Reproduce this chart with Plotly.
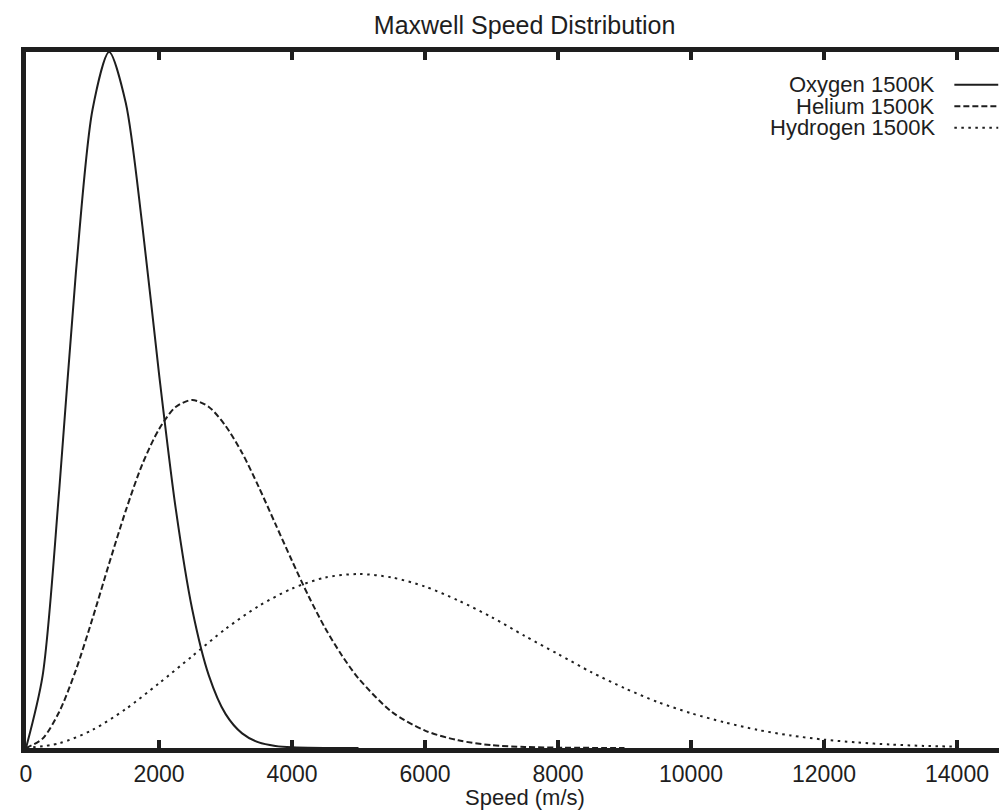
import plotly.graph_objects as go

# values (density relative to the oxygen peak)
oxygen_speed = [0, 250, 500, 750, 1000, 1250, 1500, 1750, 2000, 2250, 2500, 2750,
                3000, 3250, 3500, 3750, 4000, 4500, 5000]
oxygen_density = [0, 0.104, 0.371, 0.683, 0.917, 1.0, 0.927, 0.750, 0.538, 0.345,
                  0.199, 0.104, 0.049, 0.021, 0.008, 0.003, 0.001, 0.0001, 0]

helium_speed = [0, 250, 500, 750, 1000, 1250, 1500, 1750, 2000, 2250, 2500, 2750,
                3000, 3250, 3500, 3750, 4000, 4250, 4500, 4750, 5000, 5500, 6000,
                6500, 7000, 7500, 8000, 9000]
helium_density = [0, 0.0135, 0.052, 0.112, 0.186, 0.265, 0.341, 0.408, 0.458, 0.490,
                  0.5, 0.490, 0.463, 0.424, 0.375, 0.322, 0.269, 0.218, 0.172, 0.133,
                  0.100, 0.052, 0.025, 0.011, 0.004, 0.0015, 0.0005, 0]

hydrogen_speed = [0, 500, 1000, 1500, 2000, 2500, 3000, 3500, 4000, 4500, 5000, 5500,
                  6000, 6500, 7000, 7500, 8000, 8500, 9000, 9500, 10000, 10500, 11000,
                  11500, 12000, 12500, 13000, 13500, 14000]
hydrogen_density = [0, 0.0067, 0.026, 0.056, 0.093, 0.132, 0.171, 0.204, 0.229, 0.245,
                    0.25, 0.245, 0.232, 0.212, 0.188, 0.161, 0.135, 0.109, 0.086, 0.066,
                    0.050, 0.037, 0.026, 0.018, 0.012, 0.008, 0.005, 0.003, 0.002]

series_names = ["Oxygen 1500K", "Helium 1500K", "Hydrogen 1500K"]
x_ticks = [0, 2000, 4000, 6000, 8000, 10000, 12000, 14000]
x_tick_labels = ["0", "2000", "4000", "6000", "8000", "10000", "12000", "14000"]

INK = "#1e1e1e"
FONT = "Liberation Sans, Arial, Helvetica, sans-serif"
dashes = ["solid", "6px,3px", "2.5px,4.5px"]

fig = go.Figure()
for name, xs, ys, dash in zip(series_names,
                              [oxygen_speed, helium_speed, hydrogen_speed],
                              [oxygen_density, helium_density, hydrogen_density],
                              dashes):
    fig.add_trace(go.Scatter(x=xs, y=ys, mode="lines", name=name,
                             line=dict(color=INK, width=2, dash=dash, shape="spline",
                                       smoothing=0.8),
                             showlegend=False))

# gnuplot style key: right aligned text, line sample on the right
key_y = [0.953, 0.922, 0.891]
for name, ky, dash in zip(series_names, key_y, dashes):
    fig.add_annotation(x=13700, y=ky, xref="x", yref="paper", text=name,
                       showarrow=False, xanchor="right", yanchor="middle",
                       font=dict(family=FONT, size=22, color=INK))
    fig.add_shape(type="line", xref="x", yref="paper", x0=13960, x1=14620,
                  y0=ky, y1=ky, line=dict(color=INK, width=2, dash=dash))

fig.add_annotation(x=7500, y=0, xref="x", yref="paper", yshift=-49,
                   text="Speed (m/s)", showarrow=False, yanchor="middle",
                   font=dict(family=FONT, size=22, color=INK))

fig.update_layout(
    width=1007, height=812,
    margin=dict(l=18, r=0, t=44, b=72),
    paper_bgcolor="white", plot_bgcolor="white",
    title=dict(text="Maxwell Speed Distribution", x=0.513, xref="container",
               xanchor="center", y=1 - 17 / 812, yref="container", yanchor="middle",
               font=dict(family=FONT, size=25, color=INK)),
    xaxis=dict(range=[0, 14872], tickvals=x_ticks, ticktext=x_tick_labels,
               ticks="inside", ticklen=8, tickwidth=3.5, tickcolor=INK,
               showline=True, linewidth=5, linecolor=INK, mirror="ticks",
               showgrid=False, zeroline=False, ticklabelstandoff=1,
               tickfont=dict(family=FONT, size=23, color=INK)),
    yaxis=dict(range=[0, 1], showticklabels=False, ticks="", showline=True,
               linewidth=5, linecolor=INK, mirror=False, showgrid=False,
               zeroline=False),
)

fig.write_html("out.html")
